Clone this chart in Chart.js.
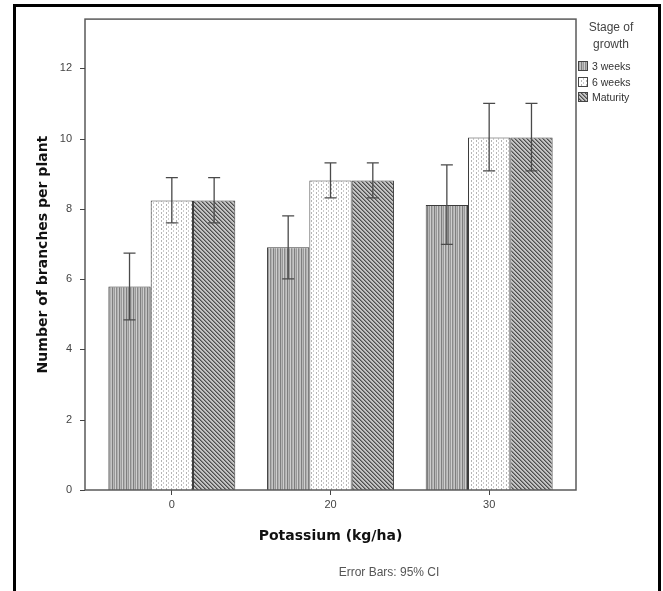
<!DOCTYPE html>
<html>
<head>
<meta charset="utf-8">
<script src="https://cdn.jsdelivr.net/npm/chart.js@4.4.1/dist/chart.umd.min.js"></script>
<style>
html, body { margin: 0; padding: 0; background: #fff; }
canvas { display: block; }
</style>
</head>
<body>
<canvas id="chart" width="663" height="591"></canvas>
<script>
// Data
const categories = ['0', '20', '30'];
const stages = ['3 weeks', '6 weeks', 'Maturity'];
const mean3w = [5.79, 6.91, 8.11];
const mean6w = [8.24, 8.81, 10.03];
const meanMat = [8.24, 8.81, 10.03];
const low3w = [4.84, 6.01, 6.99];
const high3w = [6.74, 7.80, 9.25];
const low6w = [7.60, 8.31, 9.08];
const high6w = [8.89, 9.31, 11.0];
const lowMat = [7.60, 8.31, 9.08];
const highMat = [8.89, 9.31, 11.0];
const yMax = 13.4;
const yStep = 2;

const FONT = '"Liberation Sans", Arial, sans-serif';
const TITLE_FONT = '"DejaVu Sans", Verdana, sans-serif';

// fill patterns like the SPSS bars
function makePattern(w, h, paint) {
  const c = document.createElement('canvas');
  c.width = w; c.height = h;
  paint(c.getContext('2d'));
  return document.getElementById('chart').getContext('2d').createPattern(c, 'repeat');
}

const pat3w = makePattern(7, 1, g => {
  const cols = ['#7e7e7e', '#b8b8b8', '#999999', '#cfcfcf', '#8a8a8a', '#b0b0b0', '#c4c4c4'];
  cols.forEach((col, i) => { g.fillStyle = col; g.fillRect(i, 0, 1, 1); });
});

const pat6w = makePattern(5, 4, g => {
  g.fillStyle = '#ffffff'; g.fillRect(0, 0, 5, 4);
  g.fillStyle = '#b4b4b4'; g.fillRect(1, 0, 1, 2);
  g.fillStyle = '#cccccc'; g.fillRect(3, 2, 1, 2);
});

const patMat = makePattern(4, 4, g => {
  g.fillStyle = '#c4c4c4'; g.fillRect(0, 0, 4, 4);
  for (let i = 0; i < 4; i++) {
    g.fillStyle = '#4e4e4e'; g.fillRect(i, i, 1, 1);
    g.fillStyle = '#868686'; g.fillRect((i + 1) % 4, i, 1, 1);
  }
});

const errLow = [low3w, low6w, lowMat];
const errHigh = [high3w, high6w, highMat];
const fills = [pat3w, pat6w, patMat];

const SIDE_PAD = 7.5; // frame sits a bit outside the category range

const extras = {
  id: 'extras',
  afterDatasetsDraw(chart) {
    const ctx = chart.ctx;
    const y = chart.scales.y;
    ctx.save();
    ctx.strokeStyle = '#4a4a4a';
    ctx.lineWidth = 1.3;
    chart.data.datasets.forEach((ds, i) => {
      chart.getDatasetMeta(i).data.forEach((bar, j) => {
        const yl = y.getPixelForValue(errLow[i][j]);
        const yh = y.getPixelForValue(errHigh[i][j]);
        ctx.beginPath();
        ctx.moveTo(bar.x, yl); ctx.lineTo(bar.x, yh);
        ctx.moveTo(bar.x - 6, yl); ctx.lineTo(bar.x + 6, yl);
        ctx.moveTo(bar.x - 6, yh); ctx.lineTo(bar.x + 6, yh);
        ctx.stroke();
      });
    });
    ctx.restore();
  },
  afterDraw(chart) {
    const ctx = chart.ctx;
    const a = chart.chartArea;
    const y = chart.scales.y;
    const fl = a.left - SIDE_PAD, fr = a.right + SIDE_PAD;
    ctx.save();
    // plot frame
    ctx.strokeStyle = '#5a5a5a';
    ctx.lineWidth = 1.5;
    ctx.strokeRect(fl, a.top, fr - fl, a.bottom - a.top);
    // y tick marks on the frame
    ctx.lineWidth = 1;
    ctx.strokeStyle = '#444';
    y.ticks.forEach(t => {
      const py = Math.round(y.getPixelForValue(t.value)) + 0.5;
      ctx.beginPath(); ctx.moveTo(fl - 5, py); ctx.lineTo(fl, py); ctx.stroke();
    });

    // legend
    ctx.fillStyle = '#444';
    ctx.font = '12px ' + FONT;
    ctx.textAlign = 'center';
    ctx.textBaseline = 'middle';
    ctx.fillText('Stage of', 611, 28);
    ctx.fillText('growth', 611, 45);
    ctx.textAlign = 'left';
    ctx.font = '10.5px ' + FONT;
    const ys = [66, 82, 97];
    stages.forEach((s, i) => {
      ctx.fillStyle = fills[i];
      ctx.fillRect(578, ys[i] - 5, 10, 10);
      ctx.strokeStyle = '#444';
      ctx.lineWidth = 1;
      ctx.strokeRect(578.5, ys[i] - 4.5, 9, 9);
      ctx.fillStyle = '#333';
      ctx.fillText(s, 592, ys[i] + 1);
    });

    // footnote
    ctx.fillStyle = '#555';
    ctx.font = '12px ' + FONT;
    ctx.textAlign = 'center';
    ctx.fillText('Error Bars: 95% CI', 389, 573);

    // outer black border
    ctx.strokeStyle = '#000';
    ctx.lineWidth = 3;
    ctx.beginPath();
    ctx.moveTo(14.5, 600); ctx.lineTo(14.5, 5.5); ctx.lineTo(659.5, 5.5); ctx.lineTo(659.5, 600);
    ctx.stroke();
    ctx.restore();
  }
};

new Chart(document.getElementById('chart'), {
  type: 'bar',
  data: {
    labels: categories,
    datasets: [
      { label: stages[0], data: mean3w, backgroundColor: pat3w },
      { label: stages[1], data: mean6w, backgroundColor: pat6w },
      { label: stages[2], data: meanMat, backgroundColor: patMat }
    ].map(d => Object.assign(d, {
      borderColor: '#3c3c3c',
      borderWidth: 1,
      categoryPercentage: 0.8,
      barPercentage: 1.0
    }))
  },
  options: {
    responsive: false,
    animation: false,
    layout: { padding: { left: 14, right: 94.5, top: 11, bottom: 41 } },
    plugins: {
      legend: { display: false },
      tooltip: { enabled: false }
    },
    scales: {
      x: {
        afterFit: s => { s.height = 60; },
        border: { display: false },
        grid: { display: true, drawOnChartArea: false, drawTicks: true, tickLength: 5, offset: false, color: '#444' },
        ticks: { color: '#444', font: { family: FONT, size: 11 }, padding: 3 },
        title: {
          display: true,
          text: 'Potassium (kg/ha)',
          color: '#111',
          font: { family: TITLE_FONT, size: 14, weight: 'bold' },
          padding: { top: 0, bottom: 5.6 }
        }
      },
      y: {
        min: 0,
        max: yMax,
        afterFit: s => { s.width = 78.5; },
        border: { display: false },
        grid: { display: false },
        ticks: { stepSize: yStep, includeBounds: false, color: '#444', font: { family: FONT, size: 11 }, padding: 12.5 },
        title: {
          display: true,
          text: 'Number of branches per plant',
          color: '#111',
          font: { family: TITLE_FONT, size: 14, weight: 'bold' },
          padding: { top: 20.6, bottom: 0 }
        }
      }
    }
  },
  plugins: [extras]
});
</script>
</body>
</html>
